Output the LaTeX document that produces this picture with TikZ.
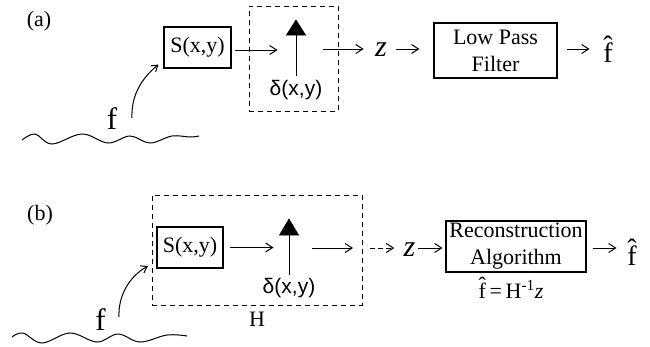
\documentclass[tikz,border=0pt]{standalone}
\usepackage{fontspec}
\setmainfont{Liberation Serif}
\newfontfamily\sansf{Liberation Sans}
\usetikzlibrary{arrows.meta}
\newcommand\myfhat{\setbox0\hbox{f}\rlap{\hbox to\wd0{\hss\raisebox{\dimexpr\ht0-0.47em\relax}{\char"02C6}\hss}}\box0}
\begin{document}
\begin{tikzpicture}[x=1pt,y=-1pt,line width=1pt,
  box/.style={draw,line width=1.1pt,inner sep=0pt,font=\fontsize{22}{27}\selectfont,align=center},
  dbox/.style={draw,dash pattern=on 5pt off 4pt,line width=1pt,inner sep=0pt},
  arr/.style={-{Straight Barb[length=7pt,width=9pt]},line width=1pt},
  carr/.style={-{Straight Barb[length=6pt,width=8pt]},line width=1pt},
  lbl/.style={inner sep=0pt,font=\fontsize{22}{26}\selectfont},
  delta/.style={inner sep=0pt,font=\sansf\fontsize{21}{24}\selectfont},
  zlbl/.style={inner sep=0pt,font=\fontsize{30}{30}\selectfont\itshape},
  flbl/.style={inner sep=0pt,font=\fontsize{31}{31}\selectfont},
  fhat/.style={inner sep=0pt,font=\fontsize{28}{30}\selectfont},
  imp/.style={fill=black,draw=black,line width=0.6pt}
]
\useasboundingbox (0,0) rectangle (650,346);

% ---------------- (a) ----------------
\node[lbl] (la) at (39,21) {(a)};
\node[box,minimum width=67pt,minimum height=41pt] (sa) at (197.5,47.5) {S(x,y)};
\node[dbox,minimum width=89pt,minimum height=105pt] (da) at (293.5,58.5) {};
% impulse
\coordinate (ia0) at (296,76);
\coordinate (ia1) at (296,35);
\draw (ia0) -- (ia1);
\fill[imp] (286.5,35) -- (305.5,35) -- (296,20) -- cycle;
\node[delta] (dla) at (296,90) {δ(x,y)};
\draw[arr] ([shift={(3,2.5)}]sa.east) -- ++(43,0);
\node[zlbl] (za) at (381,50) {z};
\coordinate (oa) at (323,49);
\draw[arr] (oa) -- ([xshift=-11pt]za.west |- oa);
\node[box,minimum width=123pt,minimum height=55pt] (lpf) at (495.5,50.5) {Low Pass\\Filter};
\draw[arr] ([xshift=9pt]za.east |- oa) -- ([xshift=-14pt]lpf.west |- oa);
\draw[arr] ([xshift=9pt]lpf.east |- oa) -- ++(23,0);
\node[fhat,anchor=base] (fha) at (608,62) {\myfhat};
% f and wave
\node[flbl] (fa) at (112,118.5) {f};
\coordinate (ca0) at (132,118);
\draw[carr] (ca0) .. controls (131,95) and (142,78) .. ([shift={(-5,-4)}]sa.south west);
\draw plot[smooth,tension=0.6] coordinates {(22,140) (35,134) (52,144) (82,134) (108,143) (130,136) (150,143) (172,136) (190,137) (199,136)};

% ---------------- (b) ----------------
\node[lbl] (lb) at (40,215) {(b)};
\node[dbox,minimum width=210pt,minimum height=110pt] (db) at (257,250) {};
\node[box,minimum width=66pt,minimum height=41pt] (sb) at (190,247.5) {S(x,y)};
\coordinate (ib0) at (289,275);
\coordinate (ib1) at (289,235);
\draw (ib0) -- (ib1);
\fill[imp] (279.5,235) -- (298.5,235) -- (289,219) -- cycle;
\node[delta] (dlb) at (289,288) {δ(x,y)};
\draw[arr] ([xshift=6pt]sb.east) -- ++(44,0);
\coordinate (ob) at (312,248);
\draw[arr] (ob) -- (353,248);
\node[zlbl] (zb) at (409.5,250) {z};
\draw[arr,dash pattern=on 5pt off 3pt] ([xshift=-33pt]zb.west |- ob) -- ([xshift=-9pt]zb.west |- ob);
\node[box,minimum width=140pt,minimum height=51pt] (rec) at (516,246.5) {Reconstruction\\Algorithm};
\draw[arr] ([xshift=2pt]zb.east |- ob) -- ([xshift=-3pt]rec.west |- ob);
\draw[arr] ([xshift=6pt]rec.east |- ob) -- ++(24,0);
\node[fhat,anchor=base] (fhb) at (632,265) {\myfhat};
\node[lbl,anchor=base] (eq) at (511,298) {\myfhat\,=\,H\textsuperscript{-1}\textit{z}};
\node[lbl] (hl) at (257,319) {H};
% f and wave
\node[flbl] (fb) at (100.5,320) {f};
\coordinate (cb0) at (119,317);
\draw[carr] (cb0) .. controls (118,295) and (130,276) .. (148,266);
\draw plot[smooth,tension=0.6] coordinates {(12,337) (23,333) (42,343) (70,333) (97,342) (118,334) (140,342) (167,335) (187,336)};
\end{tikzpicture}
\end{document}
